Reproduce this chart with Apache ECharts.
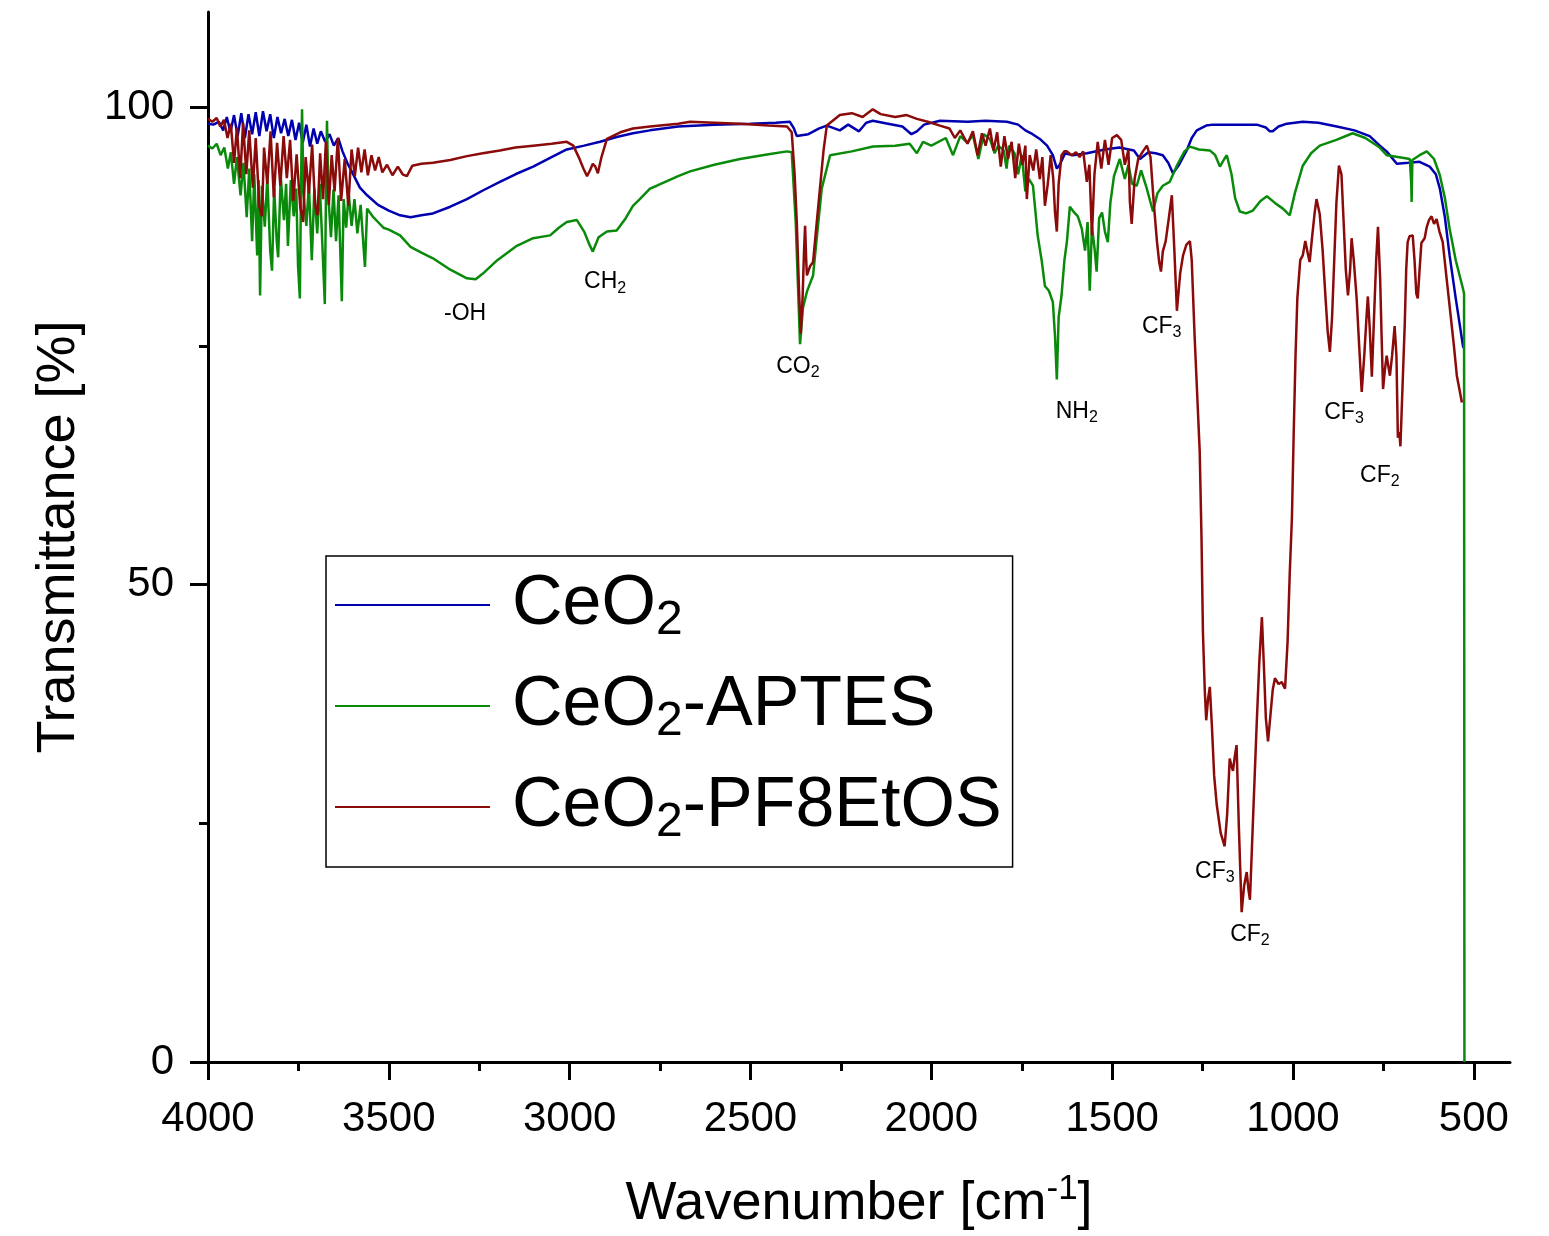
<!DOCTYPE html>
<html>
<head>
<meta charset="utf-8">
<script src="https://cdn.jsdelivr.net/npm/echarts@6/dist/echarts.min.js"></script>
<style>
  html, body { margin: 0; padding: 0; background: #fff; }
  #chart { width: 1549px; height: 1236px; }
</style>
</head>
<body>
<div id="chart"></div>
<script>
// wavenumber [cm-1], transmittance [%]
var ceo2 = [
  [4000,98.3],[3985,98.2],[3970,98.5],[3958,97.6],[3948,99.0],[3938,97.4],[3928,99.2],[3918,97.0],[3908,99.4],[3898,96.8],
  [3888,99.3],[3878,97.2],[3868,99.5],[3858,97.0],[3848,99.6],[3838,97.5],[3828,99.3],[3818,96.8],[3808,99.0],[3798,97.3],
  [3788,98.8],[3778,97.0],[3768,98.7],[3758,96.6],[3748,98.4],[3738,96.3],[3728,98.2],[3718,95.9],[3708,97.8],[3698,96.2],
  [3688,97.5],[3676,96.4],[3664,97.2],[3652,96.0],[3640,96.8],[3628,95.4],[3615,94.2],[3600,93.1],[3580,91.6],[3560,90.8],
  [3530,89.8],[3500,89.2],[3469,88.7],[3440,88.5],[3410,88.7],[3378,88.9],[3330,89.6],[3284,90.4],[3240,91.3],[3193,92.2],
  [3150,93.0],[3101,93.8],[3050,94.8],[3008,95.6],[2960,96.0],[2916,96.4],[2870,96.9],[2825,97.3],[2778,97.6],[2700,98.0],
  [2600,98.2],[2500,98.3],[2430,98.4],[2391,98.5],[2380,97.8],[2372,97.0],[2340,97.2],[2310,97.8],[2289,98.1],[2253,97.6],
  [2230,98.2],[2200,97.5],[2180,98.4],[2162,98.6],[2120,98.3],[2080,98.0],[2055,97.2],[2040,97.5],[2020,98.2],[1976,98.6],
  [1900,98.5],[1850,98.6],[1791,98.5],[1760,98.2],[1740,97.6],[1720,97.2],[1700,96.7],[1680,96.0],[1664,95.0],[1653,93.6],
  [1645,94.0],[1630,95.2],[1609,95.0],[1570,95.2],[1520,95.6],[1480,95.8],[1440,95.5],[1423,94.6],[1400,95.3],[1380,95.2],
  [1360,95.0],[1345,94.2],[1332,93.1],[1315,94.0],[1294,95.5],[1280,96.8],[1266,97.6],[1240,98.1],[1222,98.2],[1150,98.2],
  [1100,98.2],[1075,97.9],[1064,97.5],[1056,97.5],[1040,98.0],[1017,98.3],[973,98.5],[930,98.4],[879,98.0],[830,97.6],
  [788,97.0],[760,96.0],[741,95.4],[713,94.1],[680,94.2],[650,94.3],[622,93.8],[605,93.0],[594,91.5],[580,88.5],
  [567,84.5],[550,80.0],[530,75.0],[528,74.8]
];

var aptes = [
  [4000,96.0],[3988,95.7],[3976,96.2],[3965,95.0],[3955,95.8],[3945,93.6],[3937,95.3],[3928,92.0],[3920,94.8],[3910,90.8],
  [3902,94.2],[3893,88.5],[3886,93.6],[3878,86.0],[3872,93.0],[3864,84.5],[3860,92.4],[3856,80.3],[3851,91.8],[3843,87.5],
  [3836,92.6],[3828,85.0],[3823,82.9],[3817,91.6],[3810,86.0],[3806,84.3],[3799,92.8],[3790,88.2],[3784,92.0],[3779,85.5],
  [3771,92.4],[3763,88.6],[3756,91.5],[3751,83.4],[3746,80.0],[3743,91.2],[3740,99.8],[3736,91.0],[3728,87.6],[3721,92.0],
  [3713,84.0],[3706,91.5],[3698,86.8],[3691,92.0],[3684,85.8],[3677,79.4],[3674,90.2],[3671,98.6],[3667,90.6],[3660,86.4],
  [3653,91.4],[3646,86.0],[3639,90.8],[3630,79.7],[3625,90.4],[3618,87.4],[3611,91.0],[3603,87.6],[3595,90.4],[3587,86.8],
  [3578,89.8],[3566,83.3],[3560,89.4],[3545,88.6],[3530,88.0],[3515,87.4],[3500,87.2],[3469,86.6],[3440,85.4],[3410,84.8],
  [3378,84.2],[3330,83.0],[3284,82.1],[3260,82.0],[3240,82.6],[3200,84.0],[3146,85.5],[3101,86.3],[3054,86.6],[3030,87.4],
  [3008,88.0],[2980,88.2],[2960,87.0],[2945,85.6],[2936,84.9],[2920,86.4],[2897,87.0],[2870,87.1],[2845,88.4],[2825,89.7],
  [2806,90.4],[2778,91.5],[2759,91.8],[2700,92.8],[2667,93.3],[2600,94.0],[2529,94.6],[2450,95.1],[2399,95.4],[2386,95.3],
  [2375,88.0],[2363,75.2],[2355,79.0],[2344,80.7],[2327,82.4],[2315,87.0],[2303,91.5],[2280,95.0],[2220,95.4],[2161,95.9],
  [2100,96.0],[2060,96.2],[2040,95.2],[2023,96.4],[2000,96.0],[1960,96.8],[1940,95.0],[1920,97.0],[1900,96.3],[1885,97.1],
  [1870,94.6],[1855,97.2],[1838,96.7],[1825,95.2],[1815,96.0],[1800,95.5],[1792,93.6],[1785,96.0],[1770,95.2],[1760,93.0],
  [1750,95.0],[1740,91.2],[1730,92.5],[1719,91.8],[1706,86.6],[1695,84.0],[1686,81.3],[1675,80.8],[1664,79.6],[1658,76.0],
  [1653,71.5],[1648,78.0],[1640,80.3],[1632,84.0],[1625,86.0],[1617,89.6],[1605,89.0],[1595,88.6],[1584,87.3],[1575,85.0],
  [1568,88.0],[1562,80.8],[1556,87.5],[1548,85.0],[1543,82.8],[1536,88.4],[1528,89.0],[1520,87.0],[1512,85.9],[1505,90.0],
  [1495,92.8],[1479,94.6],[1465,92.5],[1455,94.0],[1445,92.0],[1432,91.8],[1420,93.4],[1405,91.6],[1395,90.2],[1387,89.1],
  [1375,91.0],[1360,91.8],[1341,92.2],[1320,94.0],[1300,95.4],[1285,95.9],[1260,95.6],[1230,95.5],[1215,95.0],[1202,93.8],
  [1190,94.6],[1183,95.0],[1170,93.0],[1160,90.5],[1147,89.1],[1130,88.9],[1111,89.2],[1090,90.2],[1072,90.7],[1050,90.0],
  [1028,89.4],[1009,88.7],[995,91.0],[973,93.9],[950,95.2],[926,96.0],[880,96.6],[835,97.3],[800,96.8],[760,95.8],
  [741,95.0],[710,94.8],[677,94.6],[673,92.0],[672,90.1],[670,94.5],[650,95.0],[630,95.4],[610,94.6],[594,92.9],
  [580,90.5],[567,87.3],[550,84.0],[530,81.0],[527,80.5],[526,0]
];

var pf8etos = [
  [4000,98.8],[3988,98.5],[3976,98.9],[3966,98.0],[3956,98.7],[3946,96.8],[3937,98.3],[3928,94.2],[3920,97.9],[3911,92.6],
  [3903,98.4],[3894,93.0],[3886,97.6],[3876,91.6],[3868,96.8],[3858,89.6],[3851,88.6],[3845,95.8],[3836,92.0],[3827,97.5],
  [3818,90.6],[3809,96.3],[3800,91.8],[3791,97.0],[3782,92.6],[3773,96.6],[3764,90.2],[3755,95.1],[3745,89.6],[3737,88.0],
  [3730,94.8],[3721,91.0],[3712,96.1],[3704,89.8],[3697,88.7],[3690,95.2],[3682,90.4],[3674,96.4],[3666,89.8],[3658,95.0],
  [3650,91.2],[3641,96.8],[3632,90.2],[3622,94.6],[3612,89.7],[3603,95.6],[3594,92.8],[3585,95.8],[3576,93.2],[3567,95.6],
  [3558,92.9],[3548,95.0],[3538,93.4],[3528,94.8],[3518,93.2],[3505,94.0],[3490,92.9],[3475,93.8],[3462,93.0],[3450,92.8],
  [3435,93.9],[3410,94.1],[3378,94.2],[3330,94.5],[3284,94.9],[3240,95.2],[3193,95.5],[3150,95.8],[3101,96.0],[3050,96.2],
  [3008,96.4],[2990,96.0],[2975,94.8],[2962,93.6],[2952,92.8],[2944,93.4],[2936,94.1],[2929,93.8],[2922,93.1],[2912,94.8],
  [2897,96.7],[2860,97.4],[2825,97.8],[2778,98.0],[2700,98.3],[2667,98.5],[2600,98.4],[2530,98.3],[2450,98.1],[2399,98.0],
  [2386,97.4],[2378,93.0],[2372,88.0],[2366,81.0],[2361,76.3],[2356,80.0],[2352,85.0],[2349,87.6],[2346,84.0],[2344,82.4],
  [2335,83.4],[2327,83.8],[2318,87.5],[2308,91.5],[2298,95.5],[2289,98.1],[2253,99.2],[2220,99.4],[2190,99.0],[2162,99.8],
  [2140,99.3],[2100,99.0],[2068,99.2],[2040,98.8],[2010,98.5],[1976,98.1],[1950,97.8],[1935,96.8],[1920,97.6],[1900,96.2],
  [1885,97.5],[1872,95.0],[1860,97.3],[1850,96.0],[1838,97.8],[1828,95.5],[1818,97.4],[1808,93.8],[1798,97.0],[1788,94.6],
  [1778,96.4],[1768,92.6],[1758,96.2],[1748,94.0],[1740,96.0],[1736,90.4],[1728,95.0],[1718,93.4],[1710,95.6],[1700,92.5],
  [1693,94.8],[1686,89.7],[1678,92.0],[1670,95.0],[1663,92.6],[1658,89.0],[1653,87.0],[1648,92.0],[1640,95.0],[1632,95.4],
  [1625,95.4],[1612,95.0],[1600,95.3],[1590,94.8],[1580,95.4],[1570,92.2],[1563,94.0],[1556,86.6],[1549,93.0],[1540,96.4],
  [1530,93.6],[1520,96.6],[1510,94.0],[1500,96.8],[1487,97.1],[1475,96.6],[1465,94.0],[1455,95.6],[1451,90.1],[1446,87.8],
  [1438,92.5],[1428,94.6],[1415,95.4],[1404,96.0],[1394,94.8],[1385,90.0],[1376,85.9],[1370,83.8],[1365,82.8],[1360,84.9],
  [1352,86.0],[1343,88.5],[1335,90.8],[1328,85.0],[1321,78.7],[1312,82.6],[1304,84.5],[1295,85.6],[1285,86.0],[1280,84.0],
  [1272,76.0],[1265,70.0],[1258,64.0],[1253,55.0],[1249,45.0],[1244,39.0],[1240,35.8],[1235,38.0],[1230,39.3],[1224,35.0],
  [1218,30.0],[1211,27.0],[1200,24.0],[1189,22.6],[1182,26.0],[1175,31.8],[1170,31.0],[1166,30.5],[1161,32.0],[1156,33.2],
  [1150,25.0],[1142,15.7],[1135,18.5],[1128,19.9],[1123,18.0],[1119,17.0],[1112,24.0],[1100,35.8],[1093,42.0],[1086,46.6],
  [1080,41.0],[1075,36.0],[1069,33.6],[1062,36.5],[1056,39.0],[1050,40.2],[1040,39.6],[1031,39.8],[1022,39.1],[1015,44.0],
  [1009,51.2],[1003,57.0],[998,66.0],[993,74.0],[988,80.0],[980,84.0],[973,84.5],[966,86.0],[962,86.0],[958,84.5],
  [954,83.8],[947,86.5],[940,89.0],[935,90.4],[926,88.8],[918,85.0],[910,80.0],[904,76.5],[898,74.4],[892,78.0],
  [886,84.0],[880,90.0],[873,93.9],[866,93.0],[860,88.0],[854,83.0],[848,80.3],[842,83.0],[838,86.3],[832,84.0],
  [824,80.0],[817,75.0],[810,70.2],[803,74.0],[796,78.5],[793,80.2],[788,77.0],[782,71.8],[776,78.0],[770,84.0],
  [765,87.5],[759,82.0],[755,76.0],[751,70.5],[746,72.5],[741,74.0],[736,72.8],[732,71.9],[726,74.0],[719,77.1],
  [714,74.0],[710,65.4],[706,66.0],[703,64.5],[700,67.7],[696,72.0],[691,77.3],[687,83.0],[683,85.9],[678,86.5],
  [674,86.6],[669,86.6],[664,84.0],[659,80.5],[655,80.0],[650,83.0],[645,85.8],[636,86.3],[630,87.5],[624,88.2],
  [617,88.6],[610,87.8],[603,88.3],[595,87.0],[586,85.9],[575,82.0],[565,78.5],[555,75.0],[547,71.9],[540,70.5],
  [533,69.1]
];

var seriesNames = ['CeO2', 'CeO2-APTES', 'CeO2-PF8EtOS'];
var seriesColors = ['#0000b0', '#0a8a0a', '#8b0a0a'];

// peak labels: text, subscript, wavenumber, transmittance
var annoText = ['-OH', 'CH', 'CO', 'NH', 'CF', 'CF', 'CF', 'CF', 'CF'];
var annoSub  = ['', '2', '2', '2', '3', '3', '2', '3', '2'];
var annoWn   = [3289, 2902, 2369, 1598, 1363, 859, 760, 1216, 1119];
var annoT    = [78.4, 81.7, 72.8, 68.1, 77.0, 68.0, 61.4, 19.9, 13.3];

var majorX = [4000, 3500, 3000, 2500, 2000, 1500, 1000, 500];
var minorX = [3750, 3250, 2750, 2250, 1750, 1250, 750];
var majorY = [0, 50, 100];
var minorY = [25, 75];

var FONT = 'Liberation Sans, Arial, sans-serif';
var chart = echarts.init(document.getElementById('chart'));

function subLabel(base, sub) {
  return '{a|' + base + '}' + (sub ? '{s|' + sub + '}' : '');
}

var axisBase = {
  type: 'value',
  splitLine: { show: false },
  axisLine: { show: true, onZero: false, lineStyle: { color: '#000', width: 3 } }
};

var option = {
  animation: false,
  backgroundColor: '#fff',
  grid: { left: 208, right: 39, top: 12, bottom: 174 },
  xAxis: [
    Object.assign({}, axisBase, {
      min: 400, max: 4000, inverse: true,
      name: '{a|Wavenumber [cm}{p|-1}{a|]}',
      nameLocation: 'middle', nameGap: 110,
      nameTextStyle: {
        rich: {
          a: { fontFamily: FONT, fontSize: 54, lineHeight: 64, color: '#000' },
          p: { fontFamily: FONT, fontSize: 35, lineHeight: 28, verticalAlign: 'top', color: '#000' }
        }
      },
      axisTick: { show: true, customValues: majorX, length: 18, lineStyle: { color: '#000', width: 3 } },
      axisLabel: {
        customValues: majorX, margin: 36, fontFamily: FONT, fontSize: 42, color: '#000',
        formatter: function (v) { return String(v); }
      }
    }),
    Object.assign({}, axisBase, {
      min: 400, max: 4000, inverse: true, position: 'bottom',
      axisLine: { show: false },
      axisTick: { show: true, customValues: minorX, length: 9, lineStyle: { color: '#000', width: 3 } },
      axisLabel: { show: false }
    })
  ],
  yAxis: [
    Object.assign({}, axisBase, {
      min: 0, max: 110,
      name: 'Transmittance [%]',
      nameLocation: 'middle', nameGap: 122,
      nameTextStyle: { fontFamily: FONT, fontSize: 54, color: '#000' },
      axisTick: { show: true, customValues: majorY, length: 18, lineStyle: { color: '#000', width: 3 } },
      axisLabel: { customValues: majorY, margin: 34, fontFamily: FONT, fontSize: 42, color: '#000' }
    }),
    Object.assign({}, axisBase, {
      min: 0, max: 110, position: 'left',
      axisLine: { show: false },
      axisTick: { show: true, customValues: minorY, length: 9, lineStyle: { color: '#000', width: 3 } },
      axisLabel: { show: false }
    })
  ],
  legend: {
    data: seriesNames,
    orient: 'vertical',
    left: 326, top: 556,
    padding: [14, 11, 20, 9],
    borderColor: '#000', borderWidth: 1.5,
    icon: 'rect',
    itemWidth: 155, itemHeight: 2, itemGap: 26,
    formatter: function (name) {
      var p = name.split('2');
      return '{a|' + p[0] + '}{s|2}' + (p[1] ? '{a|' + p[1] + '}' : '');
    },
    textStyle: {
      padding: [0, 0, 0, 17],
      rich: {
        a: { fontFamily: FONT, fontSize: 70, lineHeight: 80, color: '#000' },
        s: { fontFamily: FONT, fontSize: 48, lineHeight: 4, verticalAlign: 'bottom', color: '#000' }
      }
    }
  },
  series: seriesNames.map(function (name, i) {
    return {
      name: name,
      type: 'line',
      data: [ceo2, aptes, pf8etos][i],
      symbol: 'none',
      color: seriesColors[i],
      lineStyle: { width: 2.5, color: seriesColors[i] },
      z: 2 + i
    };
  }).concat([{
    name: 'peaks',
    type: 'scatter',
    symbolSize: 0,
    silent: true,
    z: 10,
    itemStyle: { opacity: 1 },
    data: annoWn.map(function (w, i) { return [w, annoT[i]]; }),
    label: {
      show: true,
      position: 'inside',
      opacity: 1,
      formatter: function (p) { return subLabel(annoText[p.dataIndex], annoSub[p.dataIndex]); },
      rich: {
        a: { fontFamily: FONT, fontSize: 23, lineHeight: 28, color: '#000' },
        s: { fontFamily: FONT, fontSize: 16, lineHeight: 8, verticalAlign: 'bottom', color: '#000' }
      }
    }
  }])
};

chart.setOption(option);
</script>
</body>
</html>
